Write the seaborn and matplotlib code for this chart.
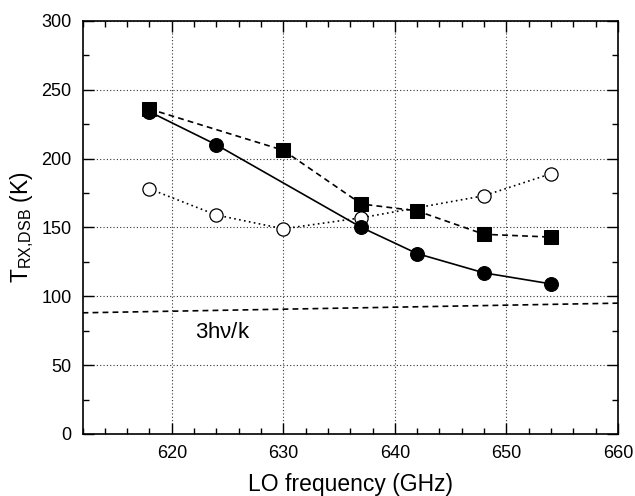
import matplotlib
matplotlib.use("Agg")
import matplotlib.pyplot as plt
from matplotlib.ticker import MultipleLocator
import seaborn as sns

# LO frequency (GHz) and receiver temperature (K)
freq_filled = [618, 624, 637, 642, 648, 654]
trx_filled = [234, 210, 150, 131, 117, 109]

freq_square = [618, 630, 637, 642, 648, 654]
trx_square = [236, 206, 167, 162, 145, 143]

freq_open = [618, 624, 630, 637, 648, 654]
trx_open = [178, 159, 149, 157, 173, 189]

# 3hv/k reference line
freq_quantum = [612, 660]
t_quantum = [88, 95]

sns.set_style("ticks")
plt.rcParams["font.family"] = ["Liberation Sans", "DejaVu Sans"]
plt.rcParams["mathtext.fontset"] = "custom"
plt.rcParams["mathtext.rm"] = "Liberation Sans"
plt.rcParams["mathtext.it"] = "Liberation Sans"
plt.rcParams["text.color"] = "black"
plt.rcParams["axes.labelcolor"] = "black"

fig = plt.figure(figsize=(6.35, 4.96), dpi=100)
ax = fig.add_axes([0.130, 0.125, 0.843, 0.833])

sns.lineplot(x=freq_quantum, y=t_quantum, ax=ax, color="black",
             linewidth=1.2, linestyle=(0, (3.5, 2.5)))
sns.lineplot(x=freq_open, y=trx_open, ax=ax, color="black", linewidth=1.2,
             linestyle=(0, (1, 2)), marker="o", markersize=9.5,
             markerfacecolor="white", markeredgecolor="black", markeredgewidth=0.9)
sns.lineplot(x=freq_square, y=trx_square, ax=ax, color="black", linewidth=1.2,
             linestyle=(0, (3.5, 2.5)), marker="s", markersize=9.5,
             markerfacecolor="black", markeredgecolor="black")
sns.lineplot(x=freq_filled, y=trx_filled, ax=ax, color="black", linewidth=1.2,
             linestyle="-", marker="o", markersize=10,
             markerfacecolor="black", markeredgecolor="black")

ax.text(622.1, 74, r"3h$\nu$/k", fontsize=16, va="center", ha="left", color="black")

ax.set_xlim(612, 660)
ax.set_ylim(0, 300)
ax.xaxis.set_major_locator(MultipleLocator(10))
ax.xaxis.set_minor_locator(MultipleLocator(2))
ax.yaxis.set_major_locator(MultipleLocator(50))
ax.yaxis.set_minor_locator(MultipleLocator(25))
ax.tick_params(which="both", direction="in", top=True, right=True, width=1,
               colors="black", labelcolor="black", labelsize=13)
ax.tick_params(which="major", length=8, pad=8)
ax.tick_params(which="minor", length=4)
ax.grid(True, which="major", linestyle=(0, (1, 2)), color="#333333", linewidth=0.8)
for spine in ax.spines.values():
    spine.set_visible(True)
    spine.set_linewidth(1.2)
    spine.set_color("black")

ax.set_xlabel("LO frequency (GHz)", fontsize=16.5, labelpad=8, color="black")
ax.set_ylabel(r"T$_{\rm RX{,}DSB}$ (K)", fontsize=16.5, labelpad=4, color="black")

fig.savefig("out.png", dpi=100)
